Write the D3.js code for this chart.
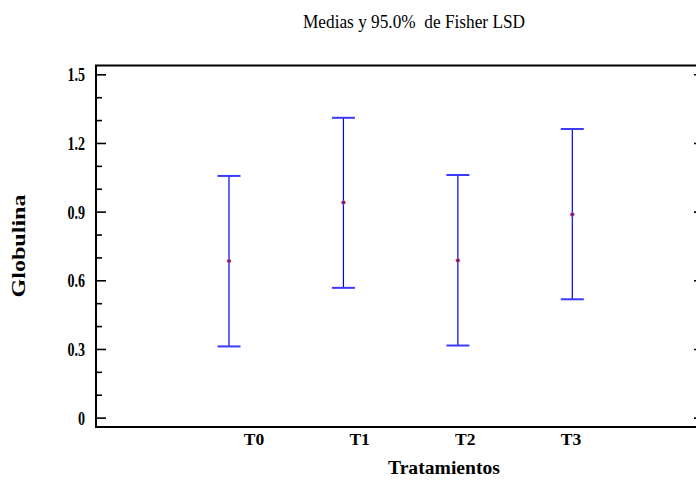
<!DOCTYPE html>
<html>
<head>
<meta charset="utf-8">
<script src="https://cdn.jsdelivr.net/npm/d3@7"></script>
<style>
  html, body { margin: 0; padding: 0; background: #fff; }
  svg { display: block; }
  text { font-family: "Liberation Serif", "Times New Roman", serif; }
</style>
</head>
<body>
<svg id="chart" width="696" height="488"></svg>
<script>
// ---- data ----
const categories = ["T0", "T1", "T2", "T3"];
const means = [0.684, 0.940, 0.687, 0.888];
const lower = [0.311, 0.567, 0.315, 0.517];
const upper = [1.056, 1.310, 1.060, 1.261];
const yMajorTicks = [0, 0.3, 0.6, 0.9, 1.2, 1.5];
const yMinorTicks = [0.1, 0.2, 0.4, 0.5, 0.7, 0.8, 1.0, 1.1, 1.3, 1.4];
const yTickLabels = ["0", "0.3", "0.6", "0.9", "1.2", "1.5"];
const title = "Medias y 95.0%  de Fisher LSD";
const xTitle = "Tratamientos";
const yTitle = "Globulina";

// ---- layout ----
const plot = { left: 96, right: 704, top: 65.5, bottom: 427 };

const svg = d3.select("#chart");

const y = d3.scaleLinear().domain([-0.041, 1.5385]).range([plot.bottom, plot.top]);
const x = d3.scalePoint().domain(categories).range([229, 572.3]);
const xLabel = d3.scalePoint().domain(categories).range([254, 571]);

// Frame
svg.append("rect")
  .attr("x", plot.left).attr("y", plot.top)
  .attr("width", plot.right - plot.left).attr("height", plot.bottom - plot.top)
  .attr("fill", "none").attr("stroke", "#000").attr("stroke-width", 2);

// Left major ticks (inward)
const gL = svg.append("g").attr("transform", `translate(${plot.left},0)`)
  .call(d3.axisRight(y).tickValues(yMajorTicks).tickSize(10).tickFormat(""));
const gLm = svg.append("g").attr("transform", `translate(${plot.left},0)`)
  .call(d3.axisRight(y).tickValues(yMinorTicks).tickSize(6).tickFormat(""));
// Right major ticks (inward)
const gR = svg.append("g").attr("transform", `translate(${plot.right},0)`)
  .call(d3.axisLeft(y).tickValues(yMajorTicks).tickSize(10).tickFormat(""));
[gL, gLm, gR].forEach(g => {
  g.select(".domain").remove();
  g.selectAll("line").attr("stroke", "#000").attr("stroke-width", 1.6);
});

// Left tick labels
const gLab = svg.append("g").attr("transform", `translate(${plot.left},0)`)
  .call(d3.axisLeft(y).tickValues(yMajorTicks).tickSize(0)
    .tickFormat((d, i) => yTickLabels[i]));
gLab.select(".domain").remove();
gLab.selectAll("text")
  .attr("x", 0)
  .attr("dy", "0.34em")
  .attr("font-weight", "bold").attr("font-size", 19).attr("fill", "#000")
  .attr("transform", "translate(-11,0) scale(0.74,1)");

// Category labels
svg.append("g").selectAll("text").data(categories).join("text")
  .attr("x", d => xLabel(d)).attr("y", 445)
  .attr("text-anchor", "middle")
  .attr("font-weight", "bold").attr("font-size", 17.5)
  .text(d => d);

// Error bars
const capHalf = 11.5;
const bars = svg.append("g");
categories.forEach((c, i) => {
  bars.append("line")
    .attr("x1", x(c)).attr("x2", x(c))
    .attr("y1", y(upper[i])).attr("y2", y(lower[i]))
    .attr("stroke", "#0000ff").attr("stroke-width", 1.2);
  [upper[i], lower[i]].forEach(v => {
    bars.append("line")
      .attr("x1", x(c) - capHalf).attr("x2", x(c) + capHalf)
      .attr("y1", y(v)).attr("y2", y(v))
      .attr("stroke", "#3b3bff").attr("stroke-width", 2);
  });
  bars.append("circle")
    .attr("cx", x(c)).attr("cy", y(means[i])).attr("r", 2)
    .attr("fill", "#7a1a5a").attr("stroke", "#d070a0").attr("stroke-width", 0.6);
});

// Titles
svg.append("text")
  .attr("x", 414).attr("y", 28)
  .attr("text-anchor", "middle")
  .attr("font-size", 19)
  .attr("textLength", 222).attr("lengthAdjust", "spacingAndGlyphs")
  .style("white-space", "pre")
  .text(title);

svg.append("text")
  .attr("x", 444).attr("y", 474)
  .attr("text-anchor", "middle")
  .attr("font-weight", "bold").attr("font-size", 19)
  .attr("textLength", 112).attr("lengthAdjust", "spacingAndGlyphs")
  .text(xTitle);

svg.append("text")
  .attr("transform", "translate(25,246) rotate(-90)")
  .attr("text-anchor", "middle")
  .attr("font-weight", "bold").attr("font-size", 19)
  .attr("textLength", 103).attr("lengthAdjust", "spacingAndGlyphs")
  .text(yTitle);
</script>
</body>
</html>
